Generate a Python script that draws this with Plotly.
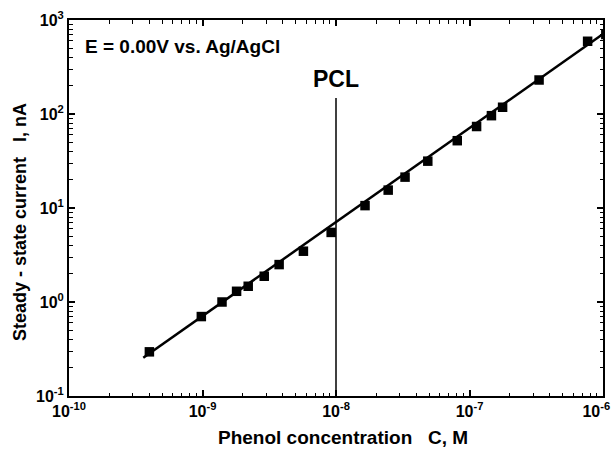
import plotly.graph_objects as go
import numpy as np

# Data
conc_M = [4.0e-10, 9.8e-10, 1.40e-9, 1.80e-9, 2.20e-9, 2.9e-9, 3.75e-9, 5.7e-9, 9.2e-9,
          1.65e-8, 2.46e-8, 3.29e-8, 4.87e-8, 8.1e-8, 1.13e-7, 1.46e-7, 1.77e-7, 3.32e-7,
          7.67e-7, 1.05e-6]
current_nA = [0.295, 0.70, 1.0, 1.30, 1.47, 1.88, 2.5, 3.47, 5.5,
              10.6, 15.5, 21.3, 31.5, 52, 73.6, 96, 118, 230,
              594, 701]
fit_x = [3.6e-10, 1.05e-6]
fit_y = [0.255, 745]
pcl_x = [1e-8, 1e-8]
pcl_y = [0.1, 148]

x_major = [1e-10, 1e-9, 1e-8, 1e-7, 1e-6]
y_major = [1e-1, 1e0, 1e1, 1e2, 1e3]
x_minor = [m * 10.0 ** e for e in range(-10, -6) for m in range(2, 10)]
y_minor = [m * 10.0 ** e for e in range(-1, 3) for m in range(2, 10)]

def pow_label(v):
    e = int(round(np.log10(v)))
    return f"10<sup>{e}</sup>"

FONT = "Liberation Sans, Arial, sans-serif"

x_ticktext = [pow_label(v) for v in x_major]
x_ticktext[-1] = x_ticktext[-1] + "\u00a0\u00a0\u00a0"  # keep last label inside the page

fig = go.Figure()

fig.add_trace(go.Scatter(x=fit_x, y=fit_y, mode="lines",
                         line=dict(color="black", width=2.5), showlegend=False))
fig.add_trace(go.Scatter(x=pcl_x, y=pcl_y, mode="lines",
                         line=dict(color="black", width=1.5), showlegend=False))
fig.add_trace(go.Scatter(x=conc_M, y=current_nA, mode="markers",
                         marker=dict(symbol="square", size=9.5, color="black"),
                         showlegend=False))

axis_common = dict(
    type="log", showgrid=False, zeroline=False, automargin=False,
    ticklabeloverflow="allow",
    showline=True, linecolor="black", linewidth=2, mirror="allticks",
    ticks="inside", ticklen=6, tickwidth=1.5, tickcolor="black",
    tickfont=dict(family=FONT, size=16, color="black", weight="bold"),
)

fig.update_xaxes(**axis_common, range=[-10, -6],
                 tickmode="array", tickvals=x_major, ticktext=x_ticktext,
                 minor=dict(tickmode="array", tickvals=x_minor, ticks="inside",
                            ticklen=3.5, tickwidth=1.2, tickcolor="black"))
fig.update_yaxes(**axis_common, range=[-1, 3],
                 tickmode="array", tickvals=y_major,
                 ticktext=[pow_label(v) for v in y_major],
                 minor=dict(tickmode="array", tickvals=y_minor, ticks="inside",
                            ticklen=3.5, tickwidth=1.2, tickcolor="black"))

L, R, T, B = 69, 12, 20, 54
W, H = 615, 450
pw = W - L - R
ph = H - T - B

def px_to_paper(px, py):
    return (px - L) / pw, (H - B - py) / ph

ex, ey = px_to_paper(83, 46)
_, pcly = px_to_paper(0, 78.5)
xtx, xty = px_to_paper(342.5, 437)
ytx, yty = px_to_paper(20, 222)

fig.update_layout(
    width=W, height=H,
    margin=dict(l=L, r=R, t=T, b=B),
    plot_bgcolor="white", paper_bgcolor="white",
    font=dict(family=FONT, color="black"),
    annotations=[
        dict(text="<b>E = 0.00V vs. Ag/AgCl</b>", x=ex, y=ey, xref="paper", yref="paper",
             showarrow=False, xanchor="left", yanchor="middle",
             font=dict(family=FONT, size=19, color="black")),
        dict(text="<b>PCL</b>", x=-8, y=pcly, xref="x", yref="paper",
             showarrow=False, xanchor="center", yanchor="middle",
             font=dict(family=FONT, size=23, color="black")),
        dict(text="<b>Phenol concentration   C, M</b>", x=xtx, y=xty,
             xref="paper", yref="paper", showarrow=False,
             xanchor="center", yanchor="middle",
             font=dict(family=FONT, size=19, color="black")),
        dict(text="<b>Steady - state current   I, nA</b>", x=ytx, y=yty,
             xref="paper", yref="paper", showarrow=False, textangle=-90,
             xanchor="center", yanchor="middle",
             font=dict(family=FONT, size=18, color="black")),
    ],
)

fig.write_html("out.html")
